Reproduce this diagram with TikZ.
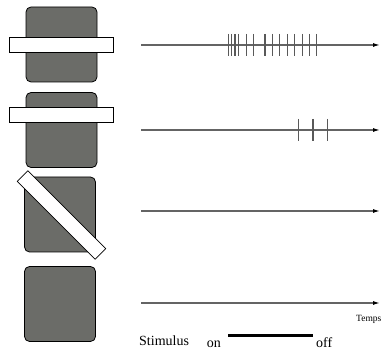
\documentclass[tikz,border=0pt]{standalone}
\usepackage{fontspec}
\setmainfont{Liberation Serif}
\usepackage{tikz}
\usetikzlibrary{arrows.meta,positioning}
\definecolor{blockgray}{RGB}{107,108,104}
\definecolor{axisgray}{RGB}{100,100,100}
\tikzset{
  block/.style={draw=black,fill=blockgray,rounded corners=5pt,minimum width=71pt,minimum height=75pt,inner sep=0pt,line width=0.8pt},
  slit/.style={draw=black,fill=white,minimum width=104pt,minimum height=15pt,inner sep=0pt,line width=0.7pt},
  timeline/.style={-{Latex[length=7pt,width=4pt,black]},axisgray,line width=1.2pt},
  spike/.style={black!65,line width=1.1pt},
  label/.style={font=\fontsize{14}{16}\selectfont,inner sep=0pt}
}
\begin{document}
\begin{tikzpicture}[x=1pt,y=-1pt]
  \useasboundingbox (0,0) rectangle (384,352);
  % receptive fields with the light bar
  \node[block] (b1) at (61.5,44.5) {};
  \node[slit] (s1) at (61,44.5) {};
  \node[block] (b2) at (61.5,130) {};
  \node[slit] (s2) at (61,114.5) {};
  \node[block] (b3) at (60,214.5) {};
  \node[slit,minimum width=110pt,rotate=-45] (s3) at (61.5,215) {};
  \node[block] (b4) at (60,304) {};
  % time axes
  \foreach \n/\y in {1/45,2/130,3/211,4/303}{
    \coordinate (t\n) at (141,\y);
    \coordinate (e\n) at (380,\y);
    \draw[timeline] (t\n) -- (e\n);
  }
  % spike trains
  \foreach \x in {228.3,231.7,235,238.7,246.7,253.3,265,272.3,279.7,287.3,294.7,302.3,309.3,316.7}
    \draw[spike] (\x,34) -- (\x,56);
  \foreach \x in {298.3,313,327.7}
    \draw[spike] (\x,119) -- (\x,141);
  \node[font=\fontsize{9.5}{11}\selectfont,anchor=west,inner sep=0pt] (temps) at (356,319) {Temps};
  % stimulus bar
  \node[label,anchor=base west] (stim) at (139,346) {Stimulus};
  \node[label,anchor=base east] (on) at (221,348) {on};
  \node[label,anchor=base west] (off) at (316,348) {off};
  \coordinate (son) at (228,336);
  \coordinate (soff) at (313,336);
  \draw[line width=3pt] (son) -- (soff);
\end{tikzpicture}
\end{document}
